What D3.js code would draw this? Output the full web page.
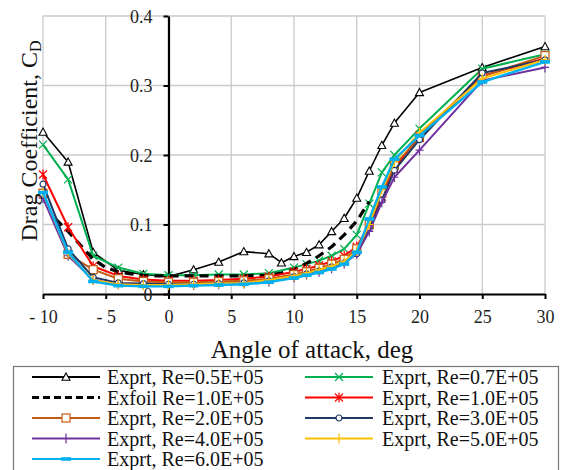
<!DOCTYPE html>
<html><head><meta charset="utf-8">
<script src="https://cdn.jsdelivr.net/npm/d3@7/dist/d3.min.js"></script>
</head>
<body style="margin:0;background:#fff"><svg id="c" width="568" height="470" font-family="Liberation Serif"></svg>
<script>
// ---- data ----
const xTicks = [-10,-5,0,5,10,15,20,25,30];
const yTicks = [0,0.1,0.2,0.3,0.4];
const angles = [-10,-8,-6,-4,-2,0,2,4,6,8,10,11,12,13,14,15,16,17,18,20,25,30];
const anglesRe05 = [-10,-8,-6,-4,-2,0,2,4,6,8,9,10,11,12,13,14,15,16,17,18,20,25,30];
const cdRe05 = [0.233,0.19,0.06,0.034,0.028,0.025,0.035,0.046,0.061,0.058,0.045,0.054,0.06,0.071,0.09,0.109,0.138,0.177,0.214,0.246,0.29,0.326,0.356];
const cdRe07 = [0.215,0.165,0.055,0.038,0.029,0.027,0.027,0.028,0.028,0.030,0.038,0.043,0.048,0.055,0.065,0.085,0.13,0.175,0.2,0.238,0.324,0.345];
const anglesXfoil = [-9,-8,-7,-6,-5,-4,-3,-2,-1,0,2,4,6,8,9,10,11,12,13,14,15,16];
const cdXfoil = [0.108,0.09,0.07,0.05,0.038,0.032,0.029,0.027,0.026,0.026,0.026,0.026,0.026,0.027,0.03,0.035,0.044,0.055,0.068,0.085,0.105,0.133];
const cdRe10 = [0.172,0.096,0.04,0.026,0.021,0.019,0.019,0.02,0.022,0.025,0.032,0.036,0.041,0.047,0.055,0.068,0.1,0.14,0.18,0.228,0.314,0.339];
const cdRe20 = [0.145,0.057,0.035,0.022,0.018,0.017,0.017,0.018,0.019,0.022,0.028,0.032,0.037,0.043,0.05,0.065,0.1,0.145,0.185,0.225,0.313,0.343];
const cdRe30 = [0.158,0.065,0.024,0.016,0.015,0.014,0.014,0.015,0.016,0.019,0.025,0.029,0.033,0.039,0.045,0.058,0.095,0.135,0.178,0.222,0.318,0.337];
const cdRe40 = [0.138,0.055,0.02,0.014,0.013,0.013,0.013,0.014,0.015,0.018,0.024,0.028,0.032,0.037,0.044,0.058,0.09,0.132,0.168,0.207,0.307,0.326];
const cdRe50 = [0.146,0.058,0.02,0.014,0.013,0.013,0.014,0.015,0.016,0.02,0.026,0.03,0.035,0.04,0.047,0.062,0.1,0.15,0.19,0.232,0.31,0.337];
const cdRe60 = [0.146,0.06,0.018,0.012,0.011,0.011,0.012,0.013,0.014,0.017,0.023,0.027,0.031,0.036,0.043,0.06,0.108,0.154,0.194,0.228,0.305,0.334];

const series = [
  {name:"Exprt, Re=0.5E+05", x:anglesRe05, y:cdRe05, color:"#000000", marker:"tri", w:1.6},
  {name:"Exprt, Re=0.7E+05", x:angles, y:cdRe07, color:"#00b050", marker:"x", w:2},
  {name:"Exfoil Re=1.0E+05", x:anglesXfoil, y:cdXfoil, color:"#000000", marker:"none", w:3.2, dash:"9,6"},
  {name:"Exprt, Re=1.0E+05", x:angles, y:cdRe10, color:"#ff0000", marker:"star", w:2},
  {name:"Exprt, Re=2.0E+05", x:angles, y:cdRe20, color:"#c55a11", marker:"sq", w:2},
  {name:"Exprt, Re=3.0E+05", x:angles, y:cdRe30, color:"#1f3864", marker:"circ", w:2},
  {name:"Exprt, Re=4.0E+05", x:angles, y:cdRe40, color:"#7030a0", marker:"plus", w:2},
  {name:"Exprt, Re=5.0E+05", x:angles, y:cdRe50, color:"#ffc000", marker:"plus", w:2},
  {name:"Exprt, Re=6.0E+05", x:angles, y:cdRe60, color:"#00b0f0", marker:"dash", w:2.4}
];

const FONT = "Liberation Serif";
const svg = d3.select("#c");
const X = d3.scaleLinear().domain([-10,30]).range([43,545]);
const Y = d3.scaleLinear().domain([0,0.4]).range([294,16]);

// gridlines
const g = svg.append("g");
g.selectAll("line.v").data(xTicks).join("line")
  .attr("x1",d=>X(d)).attr("x2",d=>X(d)).attr("y1",Y(0)).attr("y2",Y(0.4))
  .attr("stroke","#c9c9c9").attr("stroke-width",1.3);
g.selectAll("line.h").data(yTicks.filter(d=>d>0)).join("line")
  .attr("x1",X(-10)).attr("x2",X(30)).attr("y1",d=>Y(d)).attr("y2",d=>Y(d))
  .attr("stroke","#c9c9c9").attr("stroke-width",1.3);

// axes
const xAxis = d3.axisBottom(X).tickValues(xTicks).tickSize(5).tickSizeOuter(0).tickPadding(11)
  .tickFormat(d=>d<0?"- "+Math.abs(d):String(d));
const gx = svg.append("g").attr("transform",`translate(0,${Y(0)})`).call(xAxis);
const yAxis = d3.axisLeft(Y).tickValues(yTicks).tickSize(5).tickSizeOuter(0).tickPadding(11)
  .tickFormat(d=>d===0?"0":d3.format(".1f")(d));
const gy = svg.append("g").attr("transform",`translate(${X(0)},0)`).call(yAxis);
[gx,gy].forEach(a=>{
  a.attr("font-family",FONT).attr("font-size",18);
  a.select(".domain").attr("stroke","#000").attr("stroke-width",2.2);
  a.selectAll(".tick line").attr("stroke","#000").attr("stroke-width",2);
  a.selectAll(".tick text").attr("fill","#222");
});
gy.selectAll(".tick text").attr("dy","0.35em");

// marker drawing
function drawMarker(sel, type, color){
  const s = 4;
  if(type==="tri"){
    sel.append("path").attr("d",`M0,${-s} L${s},${s*0.8} L${-s},${s*0.8} Z`)
      .attr("fill","#fff").attr("stroke",color).attr("stroke-width",1.1);
  } else if(type==="x"){
    sel.append("path").attr("d",`M${-s},${-s} L${s},${s} M${-s},${s} L${s},${-s}`)
      .attr("stroke",color).attr("stroke-width",1.2).attr("fill","none");
  } else if(type==="star"){
    sel.append("path").attr("d",`M${-s},${-s} L${s},${s} M${-s},${s} L${s},${-s} M0,${-s-1} L0,${s+1}`)
      .attr("stroke",color).attr("stroke-width",1.2).attr("fill","none");
  } else if(type==="sq"){
    sel.append("rect").attr("x",-s).attr("y",-s).attr("width",2*s).attr("height",2*s)
      .attr("fill","#fff").attr("stroke",color).attr("stroke-width",1.2);
  } else if(type==="circ"){
    sel.append("circle").attr("r",3).attr("fill","#fff").attr("stroke",color).attr("stroke-width",1.2);
  } else if(type==="plus"){
    sel.append("path").attr("d",`M${-s},0 L${s},0 M0,${-s-1} L0,${s+1}`)
      .attr("stroke",color).attr("stroke-width",1.2).attr("fill","none");
  } else if(type==="dash"){
    sel.append("rect").attr("x",-s-1).attr("y",-1.8).attr("width",2*s+2).attr("height",3.6)
      .attr("fill",color);
  }
}

const line = d3.line().x(d=>X(d[0])).y(d=>Y(d[1]));
const plot = svg.append("g");
series.forEach(s=>{
  const pts = s.x.map((a,i)=>[a,s.y[i]]);
  plot.append("path").datum(pts).attr("d",line).attr("fill","none")
    .attr("stroke",s.color).attr("stroke-width",s.w)
    .attr("stroke-dasharray",s.dash||null).attr("stroke-linejoin","round");
  if(s.marker!=="none"){
    plot.append("g").selectAll("g").data(pts).join("g")
      .attr("transform",d=>`translate(${X(d[0])},${Y(d[1])})`)
      .each(function(){ drawMarker(d3.select(this), s.marker, s.color); });
  }
});

// axis titles
svg.append("text").attr("x",312).attr("y",358).attr("text-anchor","middle")
  .attr("font-family",FONT).attr("font-size",25)
  .attr("fill","#111").text("Angle of attack, deg");
const yt = svg.append("text").attr("transform","translate(37,141) rotate(-90)")
  .attr("text-anchor","middle").attr("font-family",FONT).attr("font-size",24)
  .attr("fill","#111");
yt.append("tspan").text("Drag Coefficient, C");
yt.append("tspan").attr("dy",4).attr("font-size",16).text("D");

// legend
svg.append("rect").attr("x",13.5).attr("y",366.5).attr("width",545).attr("height",120)
  .attr("fill","#fff").attr("stroke","#777").attr("stroke-width",1.2);
const cols = [{x1:32,x2:100,tx:107},{x1:305,x2:373,tx:382}];
const lg = svg.append("g");
series.forEach((s,i)=>{
  const c = cols[i%2];
  const row = Math.floor(i/2);
  const yy = 377 + row*20.5;
  const e = lg.append("g");
  e.append("line").attr("x1",c.x1).attr("x2",c.x2).attr("y1",yy).attr("y2",yy)
    .attr("stroke",s.color).attr("stroke-width",s.dash?3.2:2).attr("stroke-dasharray",s.dash?"7,4":null);
  if(s.marker!=="none"){
    const m = e.append("g").attr("transform",`translate(${(c.x1+c.x2)/2},${yy})`);
    drawMarker(m, s.marker, s.color);
  }
  e.append("text").attr("x",c.tx).attr("y",yy).attr("dy","0.35em")
    .attr("font-family",FONT).attr("font-size",20)
    .attr("fill","#111").text(s.name);
});
</script></body></html>
